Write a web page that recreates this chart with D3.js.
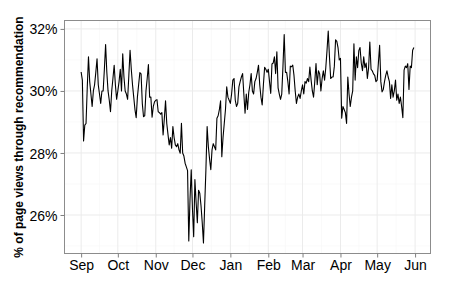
<!DOCTYPE html>
<html>
<head>
<meta charset="utf-8">
<script src="https://cdn.jsdelivr.net/npm/d3@7"></script>
<style>
  body { margin: 0; background: #fff; }
  svg { display: block; font-family: "Liberation Sans", Arial, sans-serif; }
</style>
</head>
<body>
<div id="chart"></div>
<script>
"use strict";

// Daily share of page views through recommendation (%), one value per day from Sep 1.
const startDate = "2012-09-01";

const sepValues = [30.61, 30.35, 28.39, 28.9, 28.95, 30.1, 31.1, 30.3, 29.9, 29.5,
  30.0, 30.2, 30.6, 31.04, 30.2, 29.9, 29.6, 30.0, 30.0, 30.7,
  31.5, 30.6, 30.0, 29.7, 29.33, 30.0, 30.4, 30.83, 30.2, 29.73];
const octValues = [30.0, 30.3, 30.7, 30.0, 31.2, 30.45, 30.0, 29.9, 29.73, 30.5,
  31.31, 30.7, 30.2, 29.8, 29.4, 29.14, 29.8, 30.2, 30.59, 30.55,
  29.6, 29.17, 29.2, 30.0, 30.4, 30.85, 29.8, 29.8, 29.15, 29.5, 29.65];
const novValues = [29.7, 29.72, 29.33, 29.3, 29.25, 29.3, 28.58, 29.1, 29.68, 28.95,
  28.6, 28.26, 28.5, 28.15, 28.85, 28.5, 28.26, 28.2, 28.3, 28.1,
  27.99, 28.96, 28.0, 27.9, 27.67, 27.55, 27.43, 25.16, 26.5, 27.46];
const decValues = [26.2, 25.3, 27.14, 26.4, 25.75, 26.8, 26.7, 26.3, 25.75, 25.1,
  26.3, 27.46, 28.85, 28.2, 27.8, 27.46, 28.1, 28.3, 28.2, 28.1,
  29.12, 29.2, 29.4, 29.68, 27.88, 28.5, 28.95, 29.4, 30.13, 29.8, 29.7];
const janValues = [29.6, 29.9, 30.35, 30.4, 29.7, 29.5, 29.6, 30.13, 30.3, 30.45,
  30.56, 29.9, 29.28, 29.9, 29.4, 29.95, 30.2, 30.56, 30.0, 29.9,
  30.3, 30.4, 30.6, 30.83, 30.2, 29.8, 29.55, 30.2, 30.76, 30.7, 30.6];
const febValues = [30.7, 30.3, 29.92, 30.87, 30.9, 31.1, 30.56, 31.26, 30.1, 29.9,
  29.73, 29.9, 30.8, 31.82, 30.6, 30.6, 30.3, 29.9, 30.8, 30.78,
  30.83, 30.5, 30.0, 29.6, 29.8, 29.9, 29.76, 30.0];
const marValues = [30.2, 29.9, 30.3, 30.25, 30.4, 30.3, 30.77, 30.35, 30.0, 29.8,
  30.3, 30.88, 30.2, 30.65, 30.55, 30.0, 30.4, 30.65, 30.35, 30.75,
  31.3, 31.93, 31.1, 30.4, 30.45, 30.45, 30.8, 31.65, 31.6, 31.4, 31.0];
const aprValues = [31.05, 29.12, 29.5, 29.4, 29.3, 28.95, 30.45, 29.9, 29.5, 29.8,
  30.0, 31.52, 30.35, 31.1, 30.75, 31.3, 31.4, 30.9, 30.65, 31.1,
  30.75, 30.9, 30.4, 30.75, 31.58, 30.7, 30.65, 30.55, 30.5, 30.3];
const mayValues = [30.35, 30.9, 31.47, 30.3, 29.97, 30.05, 30.3, 30.5, 30.65, 30.45,
  30.3, 29.76, 30.2, 29.8, 30.0, 30.35, 29.7, 29.9, 29.6, 29.8,
  29.5, 29.14, 30.67, 30.8, 30.75, 30.88, 30.05, 30.8, 30.75, 31.31, 31.4];

const monthTicks = ["2012-09-01", "2012-10-01", "2012-11-01", "2012-12-01", "2013-01-01",
  "2013-02-01", "2013-03-01", "2013-04-01", "2013-05-01", "2013-06-01"];
const yTicks = [26, 28, 30, 32];
const yMinorTicks = [25, 27, 29, 31];
const yTitle = "% of page views through recommendation";

const width = 450, height = 301;
const panel = { left: 64.5, right: 430.5, top: 20.5, bottom: 253.5 };

const allValues = [].concat(sepValues, octValues, novValues, decValues, janValues,
  febValues, marValues, aprValues, mayValues);
const day0 = new Date(startDate + "T00:00:00Z");
const data = allValues.map((v, i) => ({ date: d3.utcDay.offset(day0, i), value: v }));

// ggplot style 5% expansion on both axes
function expand(ext) {
  const pad = (ext[1] - ext[0]) * 0.05;
  return [ext[0] - pad, ext[1] + pad];
}
const xExt = d3.extent(data, d => +d.date);
const xPad = (xExt[1] - xExt[0]) * 0.05;
const x = d3.scaleUtc()
  .domain([new Date(xExt[0] - xPad), new Date(xExt[1] + xPad)])
  .range([panel.left, panel.right]);
const y = d3.scaleLinear()
  .domain(expand(d3.extent(data, d => d.value)))
  .range([panel.bottom, panel.top]);

const majorDates = monthTicks.map(s => new Date(s + "T00:00:00Z"));
// Minor gridlines sit halfway between the month breaks.
const minorDates = d3.pairs(majorDates).map(([a, b]) => new Date((+a + +b) / 2));

const svg = d3.select("#chart").append("svg")
  .attr("width", width)
  .attr("height", height);

const grid = svg.append("g");
grid.selectAll("line.ymin").data(yMinorTicks).enter().append("line")
  .attr("x1", panel.left).attr("x2", panel.right)
  .attr("y1", d => y(d)).attr("y2", d => y(d))
  .attr("stroke", "#f7f7f7").attr("stroke-width", 0.6);
grid.selectAll("line.xmin").data(minorDates).enter().append("line")
  .attr("x1", d => x(d)).attr("x2", d => x(d))
  .attr("y1", panel.top).attr("y2", panel.bottom)
  .attr("stroke", "#f7f7f7").attr("stroke-width", 0.6);
grid.selectAll("line.ymaj").data(yTicks).enter().append("line")
  .attr("x1", panel.left).attr("x2", panel.right)
  .attr("y1", d => y(d)).attr("y2", d => y(d))
  .attr("stroke", "#ebebeb").attr("stroke-width", 1);
grid.selectAll("line.xmaj").data(majorDates).enter().append("line")
  .attr("x1", d => x(d)).attr("x2", d => x(d))
  .attr("y1", panel.top).attr("y2", panel.bottom)
  .attr("stroke", "#ebebeb").attr("stroke-width", 1);

// The series
svg.append("path")
  .datum(data)
  .attr("fill", "none")
  .attr("stroke", "#000")
  .attr("stroke-width", 1.1)
  .attr("stroke-linejoin", "round")
  .attr("d", d3.line().x(d => x(d.date)).y(d => y(d.value)));

// Panel border
svg.append("rect")
  .attr("x", panel.left).attr("y", panel.top)
  .attr("width", panel.right - panel.left)
  .attr("height", panel.bottom - panel.top)
  .attr("fill", "none")
  .attr("stroke", "#8c8c8c")
  .attr("stroke-width", 1);

const xAxis = svg.append("g")
  .attr("transform", `translate(0,${panel.bottom})`)
  .call(d3.axisBottom(x).tickValues(majorDates)
    .tickFormat(d3.utcFormat("%b")).tickSize(4).tickPadding(3));
const yAxis = svg.append("g")
  .attr("transform", `translate(${panel.left},0)`)
  .call(d3.axisLeft(y).tickValues(yTicks)
    .tickFormat(d => d + "%").tickSize(4).tickPadding(3));

[xAxis, yAxis].forEach(ax => {
  ax.select(".domain").remove();
  ax.selectAll(".tick line").attr("stroke", "#7f7f7f");
  ax.selectAll(".tick text")
    .attr("fill", "#000")
    .style("font-size", "14px")
    .style("font-family", "'Liberation Sans', Arial, sans-serif");
});
yAxis.selectAll(".tick text").attr("dy", "0.36em");

svg.append("text")
  .attr("transform", `translate(23,${(panel.top + panel.bottom) / 2}) rotate(-90)`)
  .attr("text-anchor", "middle")
  .style("font-size", "12px")
  .style("font-weight", "bold")
  .text(yTitle);
</script>
</body>
</html>
